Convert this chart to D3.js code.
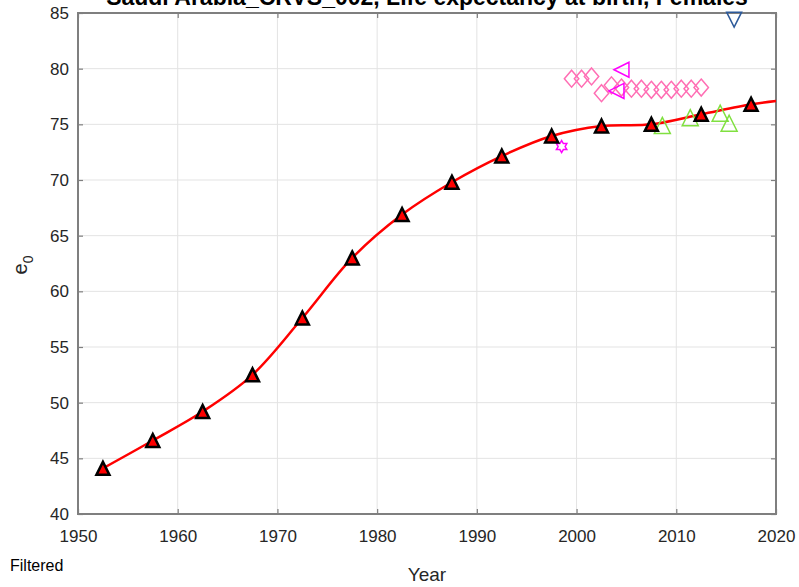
<!DOCTYPE html>
<html><head><meta charset="utf-8">
<script src="https://cdn.jsdelivr.net/npm/d3@7"></script>
<style>body{margin:0;background:#fff}svg{display:block}text{font-family:"Liberation Sans",Arial,sans-serif}</style>
</head><body><svg id="c" width="799" height="587"></svg>
<script>
const title = "Saudi Arabia_CRVS_002, Life expectancy at birth, Females";
const xTicks = [1950,1960,1970,1980,1990,2000,2010,2020];
const yTicks = [40,45,50,55,60,65,70,75,80,85];
const fitYears = [1952.5,1957.5,1962.5,1967.5,1972.5,1977.5,1982.5,1987.5,1992.5,1997.5,2002.5,2007.5,2012.5,2017.5];
const fitValues = [44.1,46.6,49.2,52.5,57.6,63.0,66.9,69.8,72.15,73.95,74.85,75.0,75.9,76.8];
const lineEnd = [2020,77.1];
const diamondYears = [1999.5,2000.5,2001.5,2002.5,2003.5,2004.5,2005.5,2006.5,2007.5,2008.5,2009.5,2010.5,2011.5,2012.5];
const diamondValues = [79.1,79.1,79.3,77.8,78.5,78.3,78.2,78.2,78.1,78.1,78.1,78.2,78.2,78.3];
const leftTriYears = [2004.5,2004.0];
const leftTriValues = [79.9,78.0];
const hexYears = [1998.5];
const hexValues = [73.0];
const greenYears = [2008.6,2011.4,2014.4,2015.3];
const greenValues = [74.9,75.6,76.0,75.1];
const blueYears = [2015.8];
const blueValues = [84.4];

const svg = d3.select("#c");
const L=78,R=776,T=13,B=514;
const x = d3.scaleLinear().domain([1950,2020]).range([L,R]);
const y = d3.scaleLinear().domain([40,85]).range([B,T]);

// grid
svg.append("g").selectAll("line").data(xTicks.slice(1,-1)).join("line")
  .attr("x1",d=>x(d)).attr("x2",d=>x(d)).attr("y1",T).attr("y2",B)
  .attr("stroke","#e3e3e3").attr("stroke-width",1);
svg.append("g").selectAll("line").data(yTicks.slice(1,-1)).join("line")
  .attr("y1",d=>y(d)).attr("y2",d=>y(d)).attr("x1",L).attr("x2",R)
  .attr("stroke","#e3e3e3").attr("stroke-width",1);

// axes
const ax = d3.axisBottom(x).tickValues(xTicks).tickSize(-5).tickPadding(16).tickFormat(d3.format("d"));
const ay = d3.axisLeft(y).tickValues(yTicks).tickSize(-5).tickPadding(9);
const axT = d3.axisTop(x).tickValues(xTicks).tickSize(-5).tickFormat("");
const ayR = d3.axisRight(y).tickValues(yTicks).tickSize(-5).tickFormat("");
function style(g){g.selectAll("path.domain").attr("stroke","#7f7f7f").attr("stroke-width",2);
  g.selectAll(".tick line").attr("stroke","#7f7f7f").attr("stroke-width",1.2);
  g.selectAll("text").attr("fill","#262626").style("font-size","17px").style("font-family","'Liberation Sans',Arial,sans-serif");}
svg.append("g").attr("transform",`translate(0,${B})`).call(ax).call(style);
svg.append("g").attr("transform",`translate(${L},0)`).call(ay).call(style);
svg.append("g").attr("transform",`translate(0,${T})`).call(axT).call(style);
svg.append("g").attr("transform",`translate(${R},0)`).call(ayR).call(style);
svg.selectAll(".domain").attr("d",null);
svg.append("rect").attr("x",L).attr("y",T).attr("width",R-L).attr("height",B-T)
  .attr("fill","none").attr("stroke","#7f7f7f").attr("stroke-width",2);

// red fit line
const pts = fitYears.map((d,i)=>[d,fitValues[i]]).concat([lineEnd]);
svg.append("path").datum(pts)
  .attr("d",d3.line().x(d=>x(d[0])).y(d=>y(d[1])).curve(d3.curveCatmullRom.alpha(0.5)))
  .attr("fill","none").attr("stroke","#ff0000").attr("stroke-width",2.5);

function tri(s,dir){
  const h=s/2;
  if(dir==="up") return `M0,${-h}L${h},${h}L${-h},${h}Z`;
  if(dir==="down") return `M0,${h}L${h},${-h}L${-h},${-h}Z`;
  return `M${-h},0L${h},${-h}L${h},${h}Z`;
}
function diamond(s){const h=s/2;return `M0,${-h}L${h*0.85},0L0,${h}L${-h*0.85},0Z`;}
function hexagram(s){const r=s/2;let p="";
  for(let i=0;i<12;i++){const a=-Math.PI/2+i*Math.PI/6;const rr=i%2?r*0.58:r;
    p+=(i?"L":"M")+(rr*Math.cos(a)).toFixed(2)+","+(rr*Math.sin(a)).toFixed(2);}return p+"Z";}

function markers(years,vals,path,stroke,fill,sw){
  svg.append("g").selectAll("path").data(years.map((d,i)=>[d,vals[i]])).join("path")
    .attr("transform",d=>`translate(${x(d[0])},${y(d[1])})`)
    .attr("d",path).attr("fill",fill).attr("stroke",stroke).attr("stroke-width",sw);
}
markers(diamondYears,diamondValues,diamond(17),"#ff6eb4","none",1.5);
markers(leftTriYears,leftTriValues,tri(15,"left"),"#ff00ff","none",1.5);
markers(hexYears,hexValues,hexagram(12),"#ff00ff","none",1.5);
markers(greenYears,greenValues,tri(16,"up"),"#80e040","none",1.5);
markers(blueYears,blueValues,tri(15,"down"),"#2d5a9a","none",1.5);
markers(fitYears,fitValues,tri(13,"up"),"#000000","#ff0000",2.5);

// texts
svg.append("text").attr("x",(L+R)/2).attr("y",5).attr("text-anchor","middle")
  .style("font-size","23px").style("font-weight","bold").attr("fill","#000").text(title);
svg.append("text").attr("x",(L+R)/2).attr("y",581).attr("text-anchor","middle")
  .style("font-size","19px").attr("fill","#262626").text("Year");
const yl = svg.append("text").attr("transform","translate(27,265) rotate(-90)").attr("text-anchor","middle")
  .style("font-size","20px").attr("fill","#262626");
yl.append("tspan").text("e");
yl.append("tspan").attr("dy",6).style("font-size","14px").text("0");
svg.append("text").attr("x",10).attr("y",571).style("font-size","16px").attr("fill","#000").text("Filtered");
</script></body></html>
